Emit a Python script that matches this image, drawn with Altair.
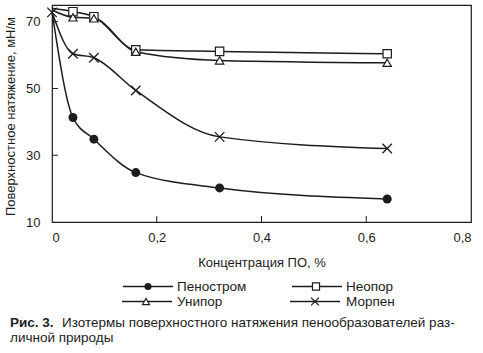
import altair as alt
import pandas as pd

# ---- data ----
conc = [0, 0.04, 0.08, 0.16, 0.32, 0.64]
penostrom = [73.0, 41.3, 34.8, 24.8, 20.2, 16.9]
neopor = [74.0, 73.0, 71.5, 61.6, 61.1, 60.4]
unipor = [73.5, 71.3, 71.0, 61.0, 58.4, 57.7]
morpen = [72.8, 60.4, 59.2, 49.4, 35.5, 32.0]
series_names = ["Пеностром", "Неопор", "Унипор", "Морпен"]
x_ticks = [0, 0.2, 0.4, 0.6, 0.8]
y_ticks = [10, 30, 50, 70]

x_title = "Концентрация ПО, %"
y_title = "Поверхностное натяжение, мН/м"
caption_bold = "Рис. 3."
caption_1 = "Изотермы поверхностного натяжения  пенообразователей раз-"
caption_2 = "личной природы"

INK = "#1c1c1c"
FONT = "Liberation Sans"
W, H = 419, 217

rows = []
for name, vals in zip(series_names, [penostrom, neopor, unipor, morpen]):
    for c, v in zip(conc, vals):
        # markers at zero concentration are only visible for Морпен
        rows.append({"series": name, "c": c, "v": v,
                     "marker": (c > 0) or name == "Морпен"})
df = pd.DataFrame(rows)

xs = alt.Scale(domain=[0, 0.8], nice=False, zero=False)
ys = alt.Scale(domain=[10, 75], nice=False, zero=False)

x_axis = alt.Axis(values=x_ticks, ticks=False, domain=False, grid=False,
                  labelExpr="datum.value == 0 ? '0' : replace(format(datum.value, '.1f'), '.', ',')",
                  labelFontSize=13, labelPadding=9, labelColor=INK, labelFont=FONT,
                  title=x_title, titleFontSize=13, titleFontWeight="normal", titleColor=INK,
                  titleFont=FONT, titleY=40, titleBaseline="middle")
y_axis = alt.Axis(values=y_ticks, ticks=False, domain=False, grid=False,
                  labelFontSize=13, labelPadding=12, labelColor=INK, labelFont=FONT,
                  title=y_title, titleFontSize=13, titleFontWeight="normal", titleColor=INK,
                  titleFont=FONT, titleX=-42, titleY=111, titleAngle=-90,
                  titleAlign="center", titleBaseline="middle")

base = alt.Chart(df)

lines = base.mark_line(interpolate="monotone", color=INK, strokeWidth=1.5).encode(
    x=alt.X("c:Q", scale=xs, axis=x_axis),
    y=alt.Y("v:Q", scale=ys, axis=y_axis),
    detail="series:N",
)

CROSS = "M-1,-1L1,1M-1,1L1,-1"
marker_styles = {
    "Пеностром": dict(shape="circle", filled=True, fill=INK, size=80, strokeWidth=1),
    "Неопор": dict(shape="square", filled=True, fill="white", stroke=INK, size=70, strokeWidth=1.2),
    "Унипор": dict(shape="triangle-up", filled=True, fill="white", stroke=INK, size=70, strokeWidth=1.2),
    "Морпен": dict(shape=CROSS, filled=False, stroke=INK, size=90, strokeWidth=1.3),
}

layers = [lines]
for name in series_names:
    st = marker_styles[name]
    layers.append(
        alt.Chart(df).transform_filter(
            (alt.datum.series == name) & alt.datum.marker
        ).mark_point(opacity=1, color=INK, **st).encode(
            x=alt.X("c:Q", scale=xs), y=alt.Y("v:Q", scale=ys)
        )
    )

# inward ticks
tick_x = alt.Chart(pd.DataFrame({"t": x_ticks[1:-1]})).mark_rule(color=INK, strokeWidth=1).encode(
    x=alt.X("t:Q", scale=xs), y=alt.value(H), y2=alt.value(H - 6))
tick_y = alt.Chart(pd.DataFrame({"t": y_ticks[1:]})).mark_rule(color=INK, strokeWidth=1).encode(
    y=alt.Y("t:Q", scale=ys), x=alt.value(0), x2=alt.value(6))
layers += [tick_x, tick_y]

# legend (two columns)
leg_pos = {
    "Пеностром": (71, 121, 96, 125, 281.5),
    "Неопор": (240, 290, 264, 294, 281.5),
    "Унипор": (70, 120, 94, 125, 296.5),
    "Морпен": (238, 288, 263, 294, 296.5),
}
one = pd.DataFrame({"k": [0]})
for name in series_names:
    x1, x2, xm, xt, yy = leg_pos[name]
    st = dict(marker_styles[name])
    st["size"] = 50 if name != "Морпен" else 60
    layers.append(alt.Chart(one).mark_rule(color=INK, strokeWidth=1.5).encode(
        x=alt.value(x1), x2=alt.value(x2), y=alt.value(yy)))
    layers.append(alt.Chart(one).mark_point(opacity=1, color=INK, **st).encode(
        x=alt.value(xm), y=alt.value(yy)))
    layers.append(alt.Chart(pd.DataFrame({"t": [name]})).mark_text(
        align="left", baseline="middle", fontSize=13.5, font=FONT, color=INK).encode(
        x=alt.value(xt), y=alt.value(yy), text="t:N"))

# caption
CAP = 13.5
layers.append(alt.Chart(pd.DataFrame({"t": [caption_bold]})).mark_text(
    align="left", baseline="middle", fontSize=CAP, font=FONT, fontWeight="bold", color=INK).encode(
    x=alt.value(-42), y=alt.value(318), text="t:N"))
layers.append(alt.Chart(pd.DataFrame({"t": [caption_1]})).mark_text(
    align="left", baseline="middle", fontSize=CAP, font=FONT, color=INK).encode(
    x=alt.value(10), y=alt.value(318), text="t:N"))
layers.append(alt.Chart(pd.DataFrame({"t": [caption_2]})).mark_text(
    align="left", baseline="middle", fontSize=CAP, font=FONT, color=INK).encode(
    x=alt.value(-42), y=alt.value(332.5), text="t:N"))

chart = alt.layer(*layers).properties(
    width=W, height=H,
    autosize=alt.AutoSizeParams(type="none"),
    padding={"left": 52, "top": 5, "right": 12, "bottom": 131},
    background="white",
).configure_view(stroke=INK, strokeWidth=1.2)

chart.save("out.html", embed_options={"renderer": "svg", "actions": False})
